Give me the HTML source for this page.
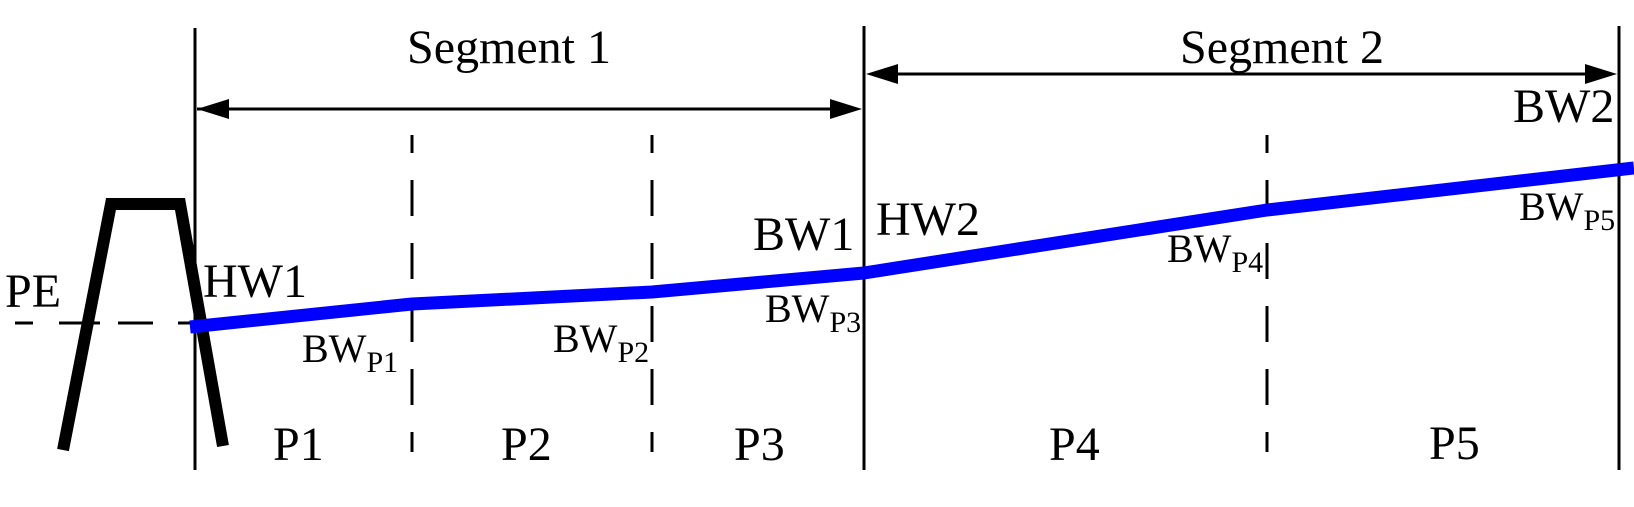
<!DOCTYPE html>
<html><head><meta charset="utf-8"><style>
html,body{margin:0;padding:0;background:#fff;}
svg{display:block;}
text{font-family:"Liberation Serif",serif;fill:#000;}
</style></head><body>
<svg width="1634" height="507" viewBox="0 0 1634 507" xmlns="http://www.w3.org/2000/svg">
<g stroke="#000" stroke-width="3" fill="none">
<line x1="195" y1="28" x2="195" y2="470"/>
<line x1="864" y1="26" x2="864" y2="470"/>
<line x1="1619" y1="26" x2="1619" y2="470"/>
<line x1="197" y1="109" x2="832" y2="109"/>
<line x1="896" y1="74" x2="1587" y2="74"/>
</g>
<g fill="#000">
<polygon points="197,109 229,99 229,119"/>
<polygon points="862,109 830,99 830,119"/>
<polygon points="866,74 898,64 898,84"/>
<polygon points="1617,74 1585,64 1585,84"/>
</g>
<g stroke="#000" stroke-width="3" stroke-dasharray="36 27" stroke-dashoffset="18">
<line x1="412" y1="135" x2="412" y2="452"/>
<line x1="652" y1="135" x2="652" y2="452"/>
<line x1="1267" y1="135" x2="1267" y2="452"/>
</g>
<g stroke="#000" stroke-width="3">
<line x1="15" y1="323" x2="33" y2="323"/>
<line x1="59" y1="323" x2="100" y2="323"/>
<line x1="118" y1="323" x2="153" y2="323"/>
<line x1="178" y1="323" x2="196" y2="323"/>
</g>
<polyline points="63,450 111,204 180,204 223,446" fill="none" stroke="#000" stroke-width="12" stroke-linejoin="miter"/>
<polyline points="190,327 412,304 652,292 864,273 1267,210 1634,168" fill="none" stroke="#0000ff" stroke-width="13" stroke-linejoin="round"/>
<g font-size="48">
<text x="407" y="63">Segment 1</text>
<text x="1180" y="63">Segment 2</text>
<text x="5" y="307">PE</text>
<text x="203" y="297">HW1</text>
<text x="753" y="250">BW1</text>
<text x="876" y="235">HW2</text>
<text x="1513" y="122">BW2</text>
<text x="273" y="460">P1</text>
<text x="501" y="460">P2</text>
<text x="734" y="460">P3</text>
<text x="1049" y="460">P4</text>
<text x="1429" y="459">P5</text>
</g>
<g font-size="40">
<text x="302" y="362">BW<tspan font-size="30" dy="10">P1</tspan></text>
<text x="553" y="352">BW<tspan font-size="30" dy="10">P2</tspan></text>
<text x="765" y="322">BW<tspan font-size="30" dy="10">P3</tspan></text>
<text x="1167" y="262">BW<tspan font-size="30" dy="10">P4</tspan></text>
<text x="1519" y="220">BW<tspan font-size="30" dy="10">P5</tspan></text>
</g>
</svg>
</body></html>
